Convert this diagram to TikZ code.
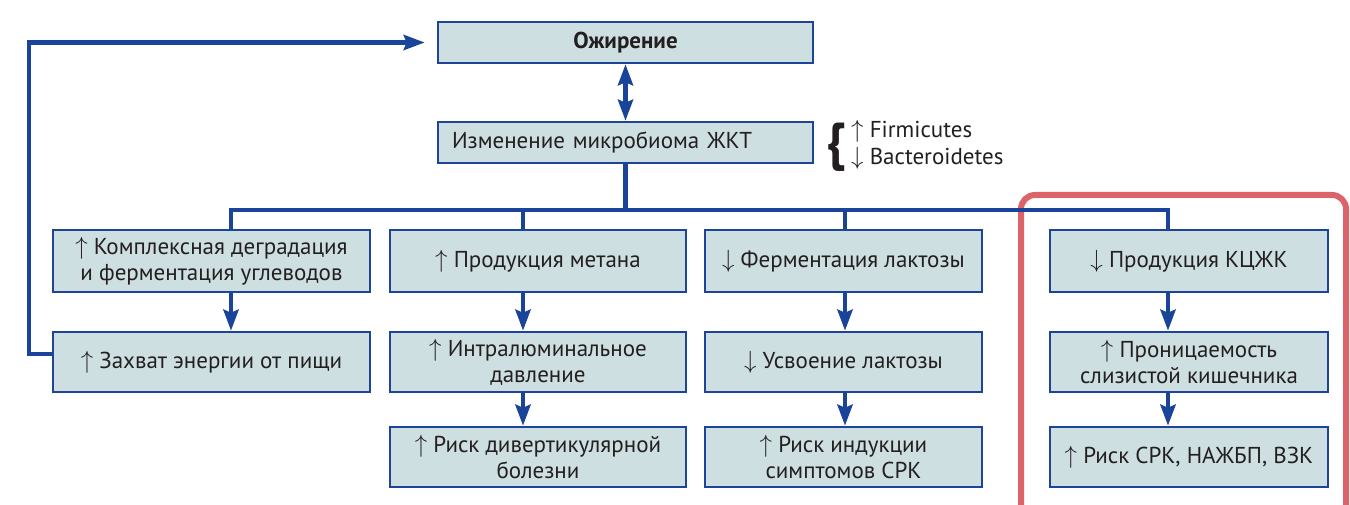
\documentclass[tikz,border=0pt]{standalone}
\usepackage{fontspec}
\setmainfont{PT Sans}
\usetikzlibrary{arrows.meta,calc}
\definecolor{boxfill}{HTML}{CEDFE2}
\definecolor{bord}{HTML}{1D4496}
\definecolor{linec}{HTML}{1A4499}
\definecolor{txt}{HTML}{231F20}
\definecolor{redc}{HTML}{DC6469}
\newcommand{\up}{$\uparrow$\ }
\newcommand{\dn}{$\downarrow$\ }
\tikzset{
  box/.style={draw=bord, fill=boxfill, line width=2.5pt, inner sep=0pt, align=center, text=txt,
    font=\fontsize{23}{26}\selectfont},
  conn/.style={draw=linec, line width=4.5pt},
  arr/.style={conn, -{Stealth[length=21pt,width=15pt,inset=3pt]}},
  arrb/.style={conn, {Stealth[length=21pt,width=15pt,inset=3pt]}-{Stealth[length=21pt,width=15pt,inset=3pt]}},
}
\begin{document}
\begin{tikzpicture}[x=1pt,y=-1pt]
\useasboundingbox (0,0) rectangle (1350,505);
% red frame
\draw[redc, line width=6pt, rounded corners=14pt] (1021,520) -- (1021,195) -- (1346,195) -- (1346,520);
% top boxes
\node[box, minimum width=375pt, minimum height=41pt, font=\fontsize{23}{26}\selectfont\bfseries] (ob) at (625.5,42.5) {Ожирение};
\node[box, minimum width=375pt, minimum height=41pt, align=left, text width=347pt, inner xsep=14pt] (mic) at (625.5,142.5) {Изменение микробиома ЖКТ};
\node[text=txt, font=\fontsize{52}{52}\selectfont\bfseries, inner sep=0pt] (br) at (836,147) {\{};
\node[text=txt, font=\fontsize{23}{27}\selectfont, align=left, anchor=base west, inner sep=0pt] (fb) at (851,165) {\up Firmicutes\\\dn Bacteroidetes};
% row 1
\node[box, minimum width=317pt, minimum height=62pt] (b1) at (211.5,261) {\up Комплексная деградация\\и ферментация углеводов};
\node[box, minimum width=296pt, minimum height=62pt] (b2) at (538,261) {\up Продукция метана};
\node[box, minimum width=277pt, minimum height=62pt] (b3) at (843.5,261) {\dn Ферментация лактозы};
\node[box, minimum width=278pt, minimum height=62pt] (b4) at (1189,261) {\dn Продукция КЦЖК};
% row 2
\node[box, minimum width=317pt, minimum height=60pt] (b1b) at (211.5,362) {\up Захват энергии от пищи};
\node[box, minimum width=296pt, minimum height=60pt] (b2b) at (538,362) {\up Интралюминальное\\давление};
\node[box, minimum width=277pt, minimum height=60pt] (b3b) at (843.5,362) {\dn Усвоение лактозы};
\node[box, minimum width=278pt, minimum height=60pt] (b4b) at (1189,362) {\up Проницаемость\\слизистой кишечника};
% row 3
\node[box, minimum width=296pt, minimum height=60pt] (b2c) at (538,457) {\up Риск дивертикулярной\\болезни};
\node[box, minimum width=277pt, minimum height=60pt] (b3c) at (843.5,457) {\up Риск индукции\\симптомов СРК};
\node[box, minimum width=278pt, minimum height=60pt] (b4c) at (1189,457) {\up Риск СРК, НАЖБП, ВЗК};
% column coordinates
\coordinate (c1) at (231,0);
\coordinate (c2) at (523,0);
\coordinate (c3) at (845,0);
\coordinate (c4) at (1168,0);
\coordinate (bus) at (0,210);
\coordinate (lx) at (29,0);
% connectors
\draw[arrb] (ob.south) -- (mic.north);
\draw[conn] (mic.south) -- (mic.south |- bus);
\draw[conn] (b1.north -| c1) -- (c1 |- bus) -- (c4 |- bus) -- (b4.north -| c4);
\draw[conn] (c2 |- bus) -- (b2.north -| c2);
\draw[conn] (c3 |- bus) -- (b3.north -| c3);
\draw[arr] (b1.south -| c1) -- (b1b.north -| c1);
\draw[arr] (b2.south -| c2) -- (b2b.north -| c2);
\draw[arr] (b2b.south -| c2) -- (b2c.north -| c2);
\draw[arr] (b3.south -| c3) -- (b3b.north -| c3);
\draw[arr] (b3b.south -| c3) -- (b3c.north -| c3);
\draw[arr] (b4.south -| c4) -- (b4b.north -| c4);
\draw[arr] (b4b.south -| c4) -- (b4c.north -| c4);
\draw[arr, shorten >=12pt] ([yshift=8pt]b1b.west) -| (lx |- ob.west) -- (ob.west);
\end{tikzpicture}
\end{document}
